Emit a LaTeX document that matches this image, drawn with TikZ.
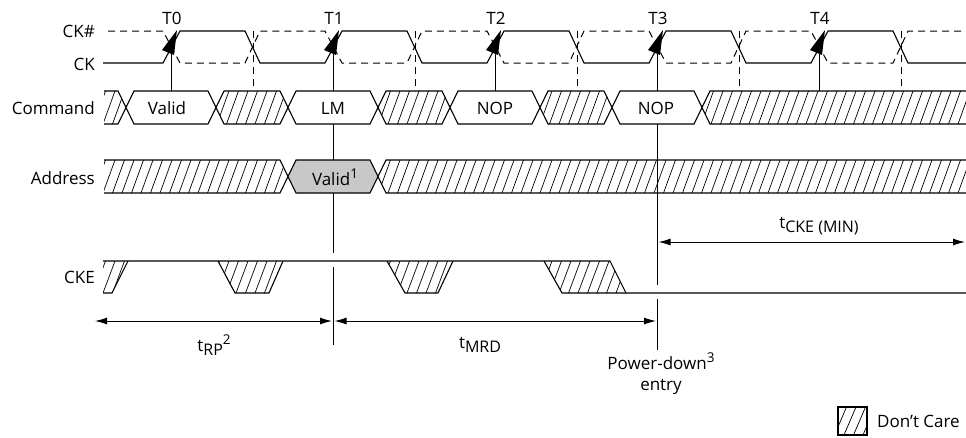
\documentclass[tikz,border=0pt]{standalone}
\usepackage{fontspec}
\setmainfont{Open Sans}
\usetikzlibrary{arrows.meta}
\newcommand\lo[1]{\raisebox{-0.45ex}{\fontsize{16}{19}\selectfont #1}}
\newcommand\hi[1]{\raisebox{0.8ex}{\fontsize{13.5}{16}\selectfont #1}}
\newcommand\hatchlines[2]{\foreach \hx in {-30,-20.5,...,990}{\draw[hatchline] (\hx,#2) -- ++(12,{#1-#2});}}
% hatched hexagon segment between crossings #1 and #2, top #3 bottom #4
\newcommand\hexhatch[4]{%
  \begin{scope}\clip ({#1+8},#3) -- ({#2-8},#3) -- (#2,{(#3+#4)/2}) -- ({#2-8},#4) -- ({#1+8},#4) -- (#1,{(#3+#4)/2}) -- cycle;
  \hatchlines{#3}{#4}\end{scope}%
  \draw[wave] ({#1+8},#3) -- ({#2-8},#3) -- (#2,{(#3+#4)/2}) -- ({#2-8},#4) -- ({#1+8},#4) -- (#1,{(#3+#4)/2}) -- cycle;}
\newcommand\firsthatch[4]{%
  \begin{scope}\clip (#1,#3) -- ({#2-8},#3) -- (#2,{(#3+#4)/2}) -- ({#2-8},#4) -- (#1,#4) -- cycle;
  \hatchlines{#3}{#4}\end{scope}%
  \draw[wave] (#1,#3) -- ({#2-8},#3) -- (#2,{(#3+#4)/2}) -- ({#2-8},#4) -- (#1,#4);}
\newcommand\lasthatch[4]{%
  \begin{scope}\clip ({#1+8},#3) -- (#2,#3) -- (#2,#4) -- ({#1+8},#4) -- (#1,{(#3+#4)/2}) -- cycle;
  \hatchlines{#3}{#4}\end{scope}%
  \draw[wave] (#2,#3) -- ({#1+8},#3) -- (#1,{(#3+#4)/2}) -- ({#1+8},#4) -- (#2,#4);}
% value hexagon: #1 left, #2 right, #3 top, #4 bottom, #5 fill, #6 name, #7 text x, #8 text
\newcommand\hexval[8]{%
  \draw[wave,fill=#5] ({#1+8},#3) -- ({#2-8},#3) -- (#2,{(#3+#4)/2}) -- ({#2-8},#4) -- ({#1+8},#4) -- (#1,{(#3+#4)/2}) -- cycle;
  \node[lbl] (#6) at (#7,{(#3+#4)/2+1}) {#8};}
\definecolor{valgray}{RGB}{200,200,200}
\begin{document}
\begin{tikzpicture}[x=1pt,y=-1pt,
  wave/.style={line width=1.1pt, line join=miter},
  refline/.style={line width=0.9pt},
  hatchline/.style={line width=0.7pt},
  dashedwave/.style={line width=1.0pt, dash pattern=on 7pt off 5pt},
  lbl/.style={font=\fontsize{17}{21}\selectfont, inner sep=0pt},
  dimarrow/.style={line width=1.0pt, {Latex[length=12pt,width=7pt]}-{Latex[length=12pt,width=7pt]}},
  ]
\useasboundingbox[fill=white] (0,0) rectangle (966,437);

% ---------- labels on the left
\node[lbl, anchor=east] (lCKn) at (95,31) {CK\#};
\node[lbl, anchor=east] (lCK) at (95,64) {CK};
\node[lbl, anchor=east] (lCmd) at (95,108) {Command};
\node[lbl, anchor=east] (lAddr) at (95,178) {Address};
\node[lbl, anchor=east] (lCKE) at (95,277) {CKE};

% ---------- clock edge labels
\foreach \t/\n in {171/0,333/1,495/2,657/3,819/4}{
  \node[lbl] (lT\n) at (\t+1,18) {T\n};
}

% ---------- clocks
\draw[wave] (103,63) \foreach \t in {171,333,495,657,819}{ -- (\t-8,63) -- (\t+9,31) -- (\t+74,31) -- (\t+89,63) } -- (966,63);
\draw[dashedwave] (108,31) \foreach \t in {171,333,495,657,819}{ -- (\t-8,31) -- (\t+9,63) -- (\t+74,63) -- (\t+89,31) } -- (966,31);
% dashed references at falling edges
\foreach \t in {171,333,495,657,819}{
  \draw[dashedwave, line width=0.8pt] (\t+82,31) -- (\t+82,91);
}
% rising edge reference lines
\foreach \t in {171,495,819}{
  \draw[refline] (\t,45) -- (\t,91);
}
\draw[refline] (333,45) -- (333,253);
\draw[refline] (333,267) -- (333,345);
\draw[refline] (657,45) -- (657,285);
\draw[refline] (657,299) -- (657,350);
% arrowheads on the rising edges
\foreach \t in {171,333,495,657,819}{
  \fill (\t+6,30) -- (\t-9,50) -- (\t+3,55) -- cycle;
}

% ---------- Command bus
\firsthatch{104}{126}{91}{124}
\hexval{126}{216}{91}{124}{white}{cValid}{167}{Valid}
\hexhatch{216}{288}{91}{124}
\hexval{288}{378}{91}{124}{white}{cLM}{333}{LM}
\hexhatch{378}{450}{91}{124}
\hexval{450}{540}{91}{124}{white}{cNOPa}{495}{NOP}
\hexhatch{540}{612}{91}{124}
\hexval{612}{702}{91}{124}{white}{cNOPb}{656}{NOP}
\lasthatch{702}{966}{91}{124}

% ---------- Address bus
\firsthatch{104}{288}{160}{193}
\hexval{288}{378}{160}{193}{valgray}{aValid}{335}{Valid\hi{1}}
\lasthatch{378}{966}{160}{193}

% ---------- CKE
\begin{scope}\clip (103,261) -- (128,261) -- (112,293) -- (103,293) -- cycle; \hatchlines{261}{293}\end{scope}
\begin{scope}\clip (218,261) -- (283,261) -- (269,293) -- (235,293) -- cycle; \hatchlines{261}{293}\end{scope}
\begin{scope}\clip (387,261) -- (453,261) -- (438,293) -- (405,293) -- cycle; \hatchlines{261}{293}\end{scope}
\begin{scope}\clip (544,261) -- (610,261) -- (626,293) -- (562,293) -- cycle; \hatchlines{261}{293}\end{scope}
\draw[wave] (103,261) -- (610,261) -- (626,293) -- (966,293);
\draw[wave] (128,261) -- (112,293) -- (103,293);
\draw[wave] (218,261) -- (235,293) -- (269,293) -- (283,261);
\draw[wave] (387,261) -- (405,293) -- (438,293) -- (453,261);
\draw[wave] (544,261) -- (562,293) -- (626,293);

% ---------- timing dimensions
\coordinate (rpL) at (95,321);
\coordinate (rpR) at (332,321);
\coordinate (mrdL) at (334.5,321);
\coordinate (mrdR) at (656,321);
\coordinate (ckeL) at (658.5,242);
\coordinate (ckeR) at (965,242);
\draw[dimarrow] (rpL) -- (rpR);
\draw[dimarrow] (mrdL) -- (mrdR);
\draw[dimarrow] (ckeL) -- (ckeR);
\node[lbl] (tRP) at (214,345) {t\lo{RP}\hi{2}};
\node[lbl] (tMRD) at (480,345) {t\lo{MRD}};
\node[lbl] (tCKE) at (819,226) {t\lo{CKE (MIN)}};
\node[lbl, align=center] (pd) at (661,374) {Power-down\hi{3}\\entry};

% ---------- legend
\begin{scope}\clip (838,407) rectangle (867,435); \hatchlines{407}{435}\end{scope}
\draw[wave] (838,407) rectangle (867,435);
\node[lbl, anchor=west] (dc) at (877,421) {Don’t Care};
\end{tikzpicture}
\end{document}
